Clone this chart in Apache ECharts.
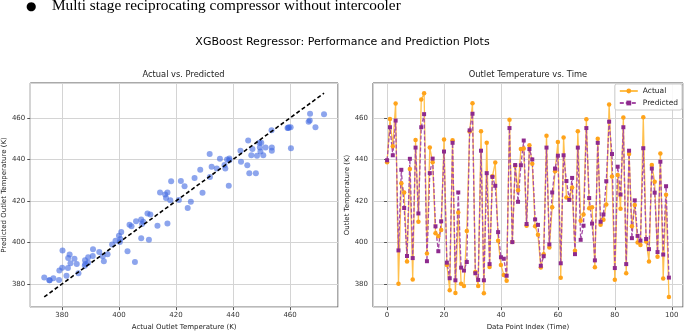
<!DOCTYPE html>
<html>
<head>
<meta charset="utf-8">
<script src="https://cdn.jsdelivr.net/npm/echarts@6/dist/echarts.min.js"></script>
<style>
  html, body { margin: 0; padding: 0; background: #fff; }
  #chart { width: 685px; height: 336px; }
</style>
</head>
<body>
<div id="chart"></div>
<script>
// actual vs predicted outlet temperature (K), index = data point / time
const actual = [
  438.7, 459.5, 446.4, 466.9, 380.2, 428.5, 424.1, 390.8, 435.4, 382.2,
  449.4, 410.0, 468.9, 471.9, 394.7, 445.7, 438.7, 404.4, 403.0, 406.0,
  449.6, 389.2, 377.0, 449.2, 375.7, 414.4, 380.1, 379.1, 405.6, 453.5,
  467.0, 385.8, 379.0, 453.6, 375.6, 448.0, 388.2, 431.9, 438.5, 400.8,
  389.2, 384.4, 381.6, 459.1, 400.3, 437.0, 425.2, 445.0, 445.3, 408.1,
  446.8, 437.9, 407.8, 403.7, 388.0, 394.3, 451.4, 397.6, 417.0, 434.3,
  448.4, 383.0, 450.6, 421.7, 421.0, 426.5, 396.0, 453.6, 410.5, 413.5,
  459.4, 416.5, 417.0, 388.1, 449.9, 408.5, 411.0, 418.3, 466.5, 431.8,
  382.1, 432.5, 416.2, 460.2, 385.2, 442.6, 407.8, 418.0, 400.0, 398.8,
  460.3, 400.5, 390.9, 437.3, 429.3, 393.1, 442.8, 382.7, 423.0, 373.8
];
const predicted = [
  439.6, 455.5, 442.0, 458.7, 396.2, 435.0, 416.6, 393.5, 440.3, 392.5,
  445.7, 414.0, 455.5, 461.8, 391.0, 433.4, 440.4, 407.8, 395.8, 410.2,
  443.8, 390.3, 382.8, 448.0, 381.8, 424.1, 387.9, 386.5, 390.6, 454.0,
  462.0, 385.2, 382.0, 444.2, 381.8, 433.4, 389.6, 431.6, 427.3, 405.0,
  392.9, 392.2, 384.0, 455.1, 400.2, 437.3, 419.6, 437.2, 449.1, 408.9,
  445.0, 440.0, 411.1, 408.5, 388.8, 393.4, 445.7, 399.1, 424.1, 435.6,
  441.8, 390.0, 442.0, 429.6, 420.5, 431.1, 394.4, 445.7, 401.3, 408.1,
  455.1, 421.4, 409.1, 391.4, 448.0, 410.0, 413.5, 429.5, 458.2, 442.6,
  387.7, 436.5, 423.1, 455.5, 389.6, 444.2, 402.1, 420.3, 403.2, 400.9,
  445.4, 401.7, 396.8, 435.6, 424.0, 395.4, 438.9, 394.2, 427.1, 383.1
];
const seriesNames = ['Actual', 'Predicted'];

const lo = Math.min(...actual, ...predicted);
const hi = Math.max(...actual, ...predicted);
const pad = (hi - lo) * 0.05;
const tempMin = +(lo - pad).toFixed(2);
const tempMax = +(hi + pad).toFixed(2);

const font = 'DejaVu Sans';
const tickColor = '#333';

function valAxis(grid, min, max, name, gap, isY) {
  return {
    type: 'value', gridIndex: grid, min: min, max: max,
    splitNumber: 5, minInterval: 20, maxInterval: 20,
    name: name, nameLocation: 'middle', nameGap: gap,
    nameRotate: isY ? 90 : 0,
    nameTextStyle: { fontFamily: font, fontSize: 7, color: '#222' },
    axisLine: { show: false },
    axisTick: { show: true, length: 3, lineStyle: { color: '#555' } },
    axisLabel: { fontFamily: font, fontSize: 7, color: tickColor, margin: 5,
                 showMinLabel: false, showMaxLabel: false },
    splitLine: { show: true, lineStyle: { color: '#d4d4d4', width: 1 } }
  };
}

const chart = echarts.init(document.getElementById('chart'), null, { renderer: 'canvas' });

chart.setOption({
  backgroundColor: '#fff',
  animation: false,
  graphic: [
    { type: 'text', x: 26, y: 7, style: { text: '●', font: '12px "DejaVu Sans"', fill: '#000', verticalAlign: 'middle' } },
    { type: 'text', x: 52, y: 6, style: { text: 'Multi stage reciprocating compressor without intercooler',
      font: '15.3px "Liberation Serif"', fill: '#000', verticalAlign: 'middle' } },
    { type: 'text', x: 342.5, y: 42, style: { text: 'XGBoost Regressor: Performance and Prediction Plots',
      font: '11px "DejaVu Sans"', fill: '#000', align: 'center', verticalAlign: 'middle' } },
    { type: 'text', x: 183.5, y: 75, style: { text: 'Actual vs. Predicted',
      font: '8.3px "DejaVu Sans"', fill: '#222', align: 'center', verticalAlign: 'middle' } },
    { type: 'text', x: 528, y: 75, style: { text: 'Outlet Temperature vs. Time',
      font: '8.3px "DejaVu Sans"', fill: '#222', align: 'center', verticalAlign: 'middle' } }
  ],
  legend: {
    data: seriesNames,
    orient: 'vertical', right: 3, top: 84,
    itemWidth: 18, itemHeight: 6, itemGap: 4,
    padding: [3, 4, 3, 4],
    backgroundColor: 'rgba(255,255,255,0.85)',
    borderColor: '#ccc', borderWidth: 1, borderRadius: 2,
    textStyle: { fontFamily: font, fontSize: 7.5, color: '#222' }
  },
  grid: [
    { left: 29, top: 83, width: 309, height: 228, show: true, borderColor: '#555', borderWidth: 1, backgroundColor: 'transparent' },
    { left: 373, top: 83, width: 310, height: 228, show: true, borderColor: '#555', borderWidth: 1, backgroundColor: 'transparent' }
  ],
  xAxis: [
    valAxis(0, tempMin, tempMax, 'Actual Outlet Temperature (K)', 16, false),
    valAxis(1, -4.95, 103.95, 'Data Point Index (Time)', 16, false)
  ],
  yAxis: [
    valAxis(0, tempMin, tempMax, 'Predicted Outlet Temperature (K)', 22, true),
    valAxis(1, tempMin, tempMax, 'Outlet Temperature (K)', 22, true)
  ],
  series: [
    {
      type: 'scatter', xAxisIndex: 0, yAxisIndex: 0,
      data: actual.map((a, i) => [a, predicted[i]]),
      symbolSize: 6,
      itemStyle: { color: 'rgba(65,105,225,0.75)' }
    },
    {
      type: 'line', xAxisIndex: 0, yAxisIndex: 0, z: 5,
      data: [[lo, lo], [hi, hi]],
      symbol: 'none',
      lineStyle: { color: '#000', width: 1.6, type: [4, 2.5] }
    },
    {
      name: seriesNames[0], type: 'line', xAxisIndex: 1, yAxisIndex: 1,
      data: actual.map((v, i) => [i, v]),
      symbol: 'circle', symbolSize: 4.5, showSymbol: true,
      itemStyle: { color: '#ffa31a' },
      lineStyle: { color: '#ffc04d', width: 1.3 }
    },
    {
      name: seriesNames[1], type: 'line', xAxisIndex: 1, yAxisIndex: 1,
      data: predicted.map((v, i) => [i, v]),
      symbol: 'rect', symbolSize: 4, showSymbol: true,
      itemStyle: { color: '#8e2a8e' },
      lineStyle: { color: '#a64da6', width: 1.3, type: [4, 2] }
    }
  ]
});
</script>
</body>
</html>
